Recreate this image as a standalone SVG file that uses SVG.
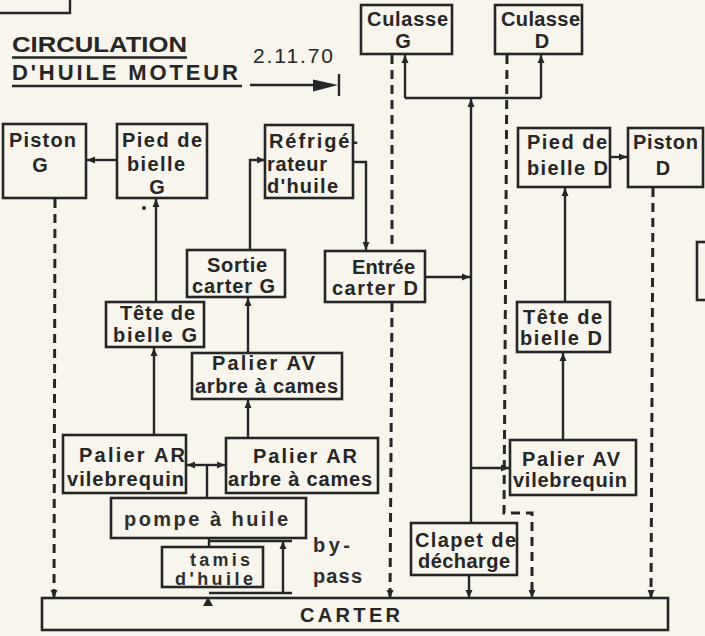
<svg xmlns="http://www.w3.org/2000/svg" width="705" height="636" viewBox="0 0 705 636">
<style>
.bx{fill:none;stroke:#262626;stroke-width:2.6}
.t{font-family:"Liberation Sans",Arial,sans-serif;font-weight:bold;font-size:20px;fill:#262626}
.tm{font-family:"Liberation Sans",Arial,sans-serif;font-weight:bold;font-size:20px;fill:#2e2e2e}
.ti{font-family:"Liberation Sans",Arial,sans-serif;font-weight:bold;font-size:22px;fill:#262626}
.s{fill:none;stroke:#262626;stroke-width:2.4}
.d{fill:none;stroke:#262626;stroke-width:3;stroke-dasharray:9 6}
.ar{marker-end:url(#ah)}
</style>
<defs>
<marker id="ah" markerUnits="userSpaceOnUse" markerWidth="9" markerHeight="8" refX="8" refY="4" orient="auto">
<path d="M0,0.5 L8,4 L0,7.5 z" fill="#262626"/>
</marker>
</defs>
<rect width="705" height="636" fill="#f7f5ec"/>

<g id="fragment">
<path class="s" d="M0,13 H70 V0"/>
</g>

<g id="title">
<text class="ti" x="12" y="52" textLength="175" lengthAdjust="spacingAndGlyphs">CIRCULATION</text>
<line class="s" x1="12" y1="57.5" x2="187" y2="57.5"/>
<text class="ti" x="12" y="80" textLength="226" lengthAdjust="spacing">D'HUILE MOTEUR</text>
<line class="s" x1="12" y1="86" x2="242" y2="86"/>
<text class="t" x="253" y="63" textLength="80" lengthAdjust="spacing" style="font-size:21px;font-weight:normal">2.11.70</text>
<line class="s" x1="250" y1="85" x2="318" y2="85"/>
<path d="M313,79.5 L338,85 L313,91.5 z" fill="#262626"/>
<line class="s" x1="339" y1="74" x2="339" y2="96"/>
</g>

<g id="connectors">
<line class="s ar" x1="117" y1="160" x2="87" y2="160"/>
<line class="s ar" x1="156" y1="302" x2="156" y2="199"/>
<line class="s ar" x1="154" y1="435" x2="154" y2="348"/>
<line class="s ar" x1="248" y1="438" x2="248" y2="400"/>
<line class="s ar" x1="248" y1="353" x2="248" y2="298"/>
<polyline class="s ar" points="250,250 250,160 265,160"/>
<polyline class="s ar" points="353,162 366,162 366,250"/>
<line class="s ar" x1="425" y1="277" x2="470" y2="277"/>
<line class="s ar" x1="471" y1="523" x2="471" y2="99"/>
<line class="s" x1="405" y1="98" x2="541" y2="98"/>
<line class="s ar" x1="405" y1="98" x2="405" y2="55"/>
<line class="s ar" x1="541" y1="98" x2="541" y2="55"/>
<line class="s ar" x1="471" y1="468" x2="509" y2="468"/>
<line class="s ar" x1="469" y1="575" x2="469" y2="598"/>
<line class="s ar" x1="563" y1="440" x2="563" y2="353"/>
<line class="s ar" x1="565" y1="302" x2="565" y2="188"/>
<line class="s ar" x1="610" y1="157" x2="627" y2="157"/>
<line class="s" x1="207" y1="498" x2="207" y2="465"/>
<line class="s ar" x1="207" y1="465" x2="187" y2="465"/>
<line class="s ar" x1="207" y1="465" x2="225" y2="465"/>
<line class="s" x1="209" y1="538" x2="209" y2="547"/>
<line class="s" x1="209" y1="541" x2="292" y2="541"/>
<line class="s" x1="209" y1="593" x2="292" y2="593"/>
<line class="s ar" x1="283" y1="593" x2="283" y2="541"/>
<path d="M203,606 L208,597 L213,606 z" fill="#262626"/>
<line class="d ar" x1="55" y1="199" x2="54" y2="598"/>
<line class="d" x1="392" y1="55" x2="392" y2="251"/>
<line class="d ar" x1="392" y1="303" x2="390" y2="598"/>
<polyline class="d" points="507,55 504,513 532,513 532,590"/>
<line class="s ar" x1="532" y1="588" x2="532" y2="598"/>
<line class="d ar" x1="653" y1="188" x2="651" y2="598"/>
</g>

<g id="culasse-g"><rect class="bx" x="361" y="5" width="91" height="49"/>
<text class="t" x="367" y="26" textLength="81" lengthAdjust="spacing">Culasse</text>
<text class="t" x="403" y="48" text-anchor="middle">G</text></g>

<g id="culasse-d"><rect class="bx" x="495" y="5" width="87" height="49"/>
<text class="t" x="501" y="26" textLength="79" lengthAdjust="spacing">Culasse</text>
<text class="t" x="542" y="48" text-anchor="middle">D</text></g>

<g id="piston-g"><rect class="bx" x="3" y="124" width="83" height="74"/>
<text class="t" x="9" y="147" textLength="67" lengthAdjust="spacing">Piston</text>
<text class="t" x="40" y="172" text-anchor="middle">G</text></g>

<g id="pied-bielle-g"><rect class="bx" x="117" y="124" width="90" height="74"/>
<text class="t" x="122" y="147" textLength="80" lengthAdjust="spacing">Pied de</text>
<text class="t" x="127" y="171" textLength="58" lengthAdjust="spacing">bielle</text>
<text class="t" x="157" y="194" text-anchor="middle">G</text></g>
<circle cx="144" cy="208" r="2" fill="#262626"/>

<g id="refrigerateur"><rect class="bx" x="265" y="125" width="88" height="73"/>
<text class="t" x="269" y="148" textLength="89" lengthAdjust="spacing">Réfrigé-</text>
<text class="t" x="267" y="171" textLength="60" lengthAdjust="spacing">rateur</text>
<text class="t" x="267" y="193" textLength="71" lengthAdjust="spacing">d'huile</text></g>

<g id="sortie-carter-g"><rect class="bx" x="187" y="250" width="98" height="47"/>
<text class="t" x="207" y="272" textLength="60" lengthAdjust="spacing">Sortie</text>
<text class="t" x="192" y="293" textLength="83" lengthAdjust="spacing">carter G</text></g>

<g id="entree-carter-d"><rect class="bx" x="325" y="251" width="100" height="51"/>
<text class="t" x="352" y="274" textLength="63" lengthAdjust="spacing">Entrée</text>
<text class="t" x="332" y="295" textLength="86" lengthAdjust="spacing">carter D</text></g>

<g id="tete-bielle-g"><rect class="bx" x="106" y="302" width="98" height="45"/>
<text class="t" x="120" y="320" textLength="75" lengthAdjust="spacing">Tête de</text>
<text class="t" x="113" y="342" textLength="84" lengthAdjust="spacing">bielle G</text></g>

<g id="palier-av-arbre"><rect class="bx" x="192" y="353" width="150" height="46"/>
<text class="t" x="212" y="370" textLength="103" lengthAdjust="spacing">Palier AV</text>
<text class="t" x="195" y="393" textLength="143" lengthAdjust="spacing">arbre à cames</text></g>

<g id="palier-ar-vilebrequin"><rect class="bx" x="63" y="435" width="123" height="58"/>
<text class="t" x="79" y="462" textLength="106" lengthAdjust="spacing">Palier AR</text>
<text class="t" x="67" y="486" textLength="117" lengthAdjust="spacing">vilebrequin</text></g>

<g id="palier-ar-arbre"><rect class="bx" x="226" y="438" width="152" height="55"/>
<text class="t" x="253" y="463" textLength="104" lengthAdjust="spacing">Palier AR</text>
<text class="t" x="228" y="486" textLength="144" lengthAdjust="spacing">arbre à cames</text></g>

<g id="pompe"><rect class="bx" x="111" y="498" width="195" height="40"/>
<text class="tm" x="124" y="526" textLength="164" lengthAdjust="spacing">pompe à huile</text></g>

<g id="tamis"><rect class="bx" x="162" y="547" width="101" height="40"/>
<text class="tm" x="190" y="566" textLength="60" lengthAdjust="spacing" style="font-size:18px">tamis</text>
<text class="tm" x="175" y="585" textLength="78" lengthAdjust="spacing" style="font-size:18px">d'huile</text></g>

<g id="bypass-label">
<text class="tm" x="313" y="552" textLength="37" lengthAdjust="spacing">by-</text>
<text class="tm" x="313" y="583" textLength="49" lengthAdjust="spacing">pass</text></g>

<g id="clapet"><rect class="bx" x="411" y="523" width="106" height="52"/>
<text class="t" x="415" y="547" textLength="101" lengthAdjust="spacing">Clapet de</text>
<text class="t" x="418" y="568" textLength="92" lengthAdjust="spacing">décharge</text></g>

<g id="pied-bielle-d"><rect class="bx" x="518" y="128" width="92" height="59"/>
<text class="t" x="527" y="149" textLength="80" lengthAdjust="spacing">Pied de</text>
<text class="t" x="527" y="175" textLength="81" lengthAdjust="spacing">bielle D</text></g>

<g id="piston-d"><rect class="bx" x="628" y="128" width="75" height="59"/>
<text class="t" x="633" y="149" textLength="65" lengthAdjust="spacing">Piston</text>
<text class="t" x="663" y="175" text-anchor="middle">D</text></g>

<g id="tete-bielle-d"><rect class="bx" x="517" y="302" width="93" height="50"/>
<text class="t" x="523" y="324" textLength="79" lengthAdjust="spacing">Tête de</text>
<text class="t" x="520" y="345" textLength="82" lengthAdjust="spacing">bielle D</text></g>

<g id="palier-av-vilebrequin"><rect class="bx" x="510" y="440" width="126" height="55"/>
<text class="t" x="522" y="466" textLength="98" lengthAdjust="spacing">Palier AV</text>
<text class="t" x="513" y="487" textLength="114" lengthAdjust="spacing">vilebrequin</text></g>

<g id="right-fragment"><rect class="bx" x="697" y="242" width="14" height="58"/></g>

<g id="carter"><rect class="bx" x="42" y="598" width="626" height="32"/>
<text class="t" x="300" y="622" textLength="100" lengthAdjust="spacing">CARTER</text></g>
</svg>
